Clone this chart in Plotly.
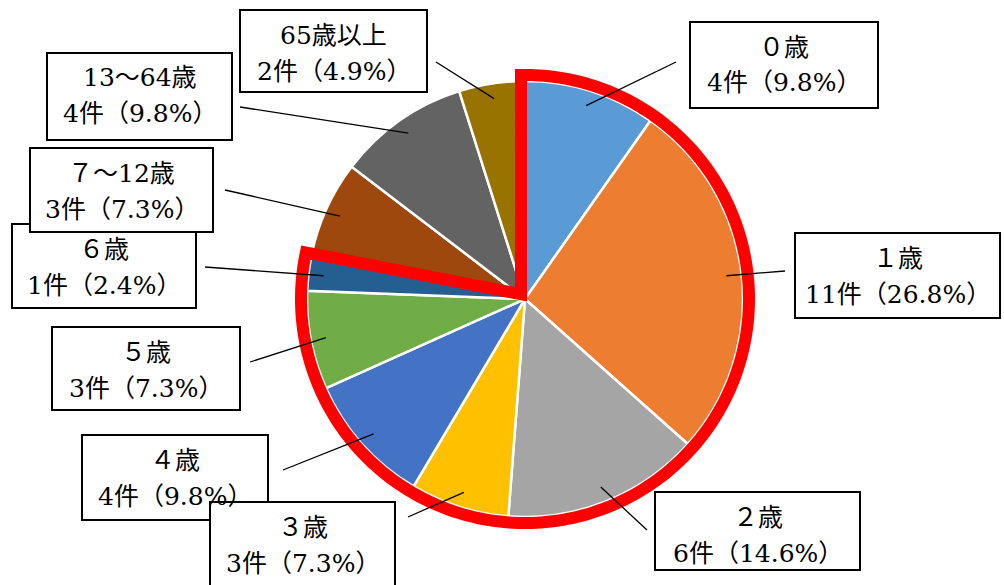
import math
import plotly.graph_objects as go

# ---------------- data ----------------
categories = ["０歳", "１歳", "２歳", "３歳", "４歳", "５歳", "６歳", "７～12歳", "13～64歳", "65歳以上"]
counts = [4, 11, 6, 3, 4, 3, 1, 3, 4, 2]
colors = ["#5B9BD5", "#ED7D31", "#A5A5A5", "#FFC000", "#4472C4",
          "#70AD47", "#255E91", "#9E480E", "#636363", "#997300"]
highlight_n = 7  # 0歳〜6歳 outlined in red

# ---------------- layout helpers ----------------
W, H = 1004, 585
CX, CY, R = 525, 299, 218
FONT = "DejaVu Serif, Noto Sans CJK JP, serif"
FONT_SIZE = 25

# label boxes (left, top, right, bottom) and leader-line outer ends, in pixels
boxes = [
    (690, 22, 878, 108),
    (795, 233, 1000, 318),
    (655, 492, 860, 570),
    (210, 502, 395, 590),
    (82, 435, 268, 520),
    (52, 327, 240, 410),
    (12, 224, 196, 308),
    (30, 148, 213, 232),
    (47, 53, 232, 140),
    (240, 10, 427, 92),
]
leader_out = [(676, 62), (785, 271), (647, 530), (408, 517), (283, 470),
              (250, 362), (205, 267), (225, 190), (240, 107), (436, 62)]
draw_order = [0, 1, 2, 4, 3, 5, 6, 7, 8, 9]


def px(x):
    return x / W


def py(y):
    return 1 - y / H


total = sum(counts)
line2 = [f"{c}件（{c / total * 100:.1f}%）" for c in counts]

fig = go.Figure(go.Pie(
    values=counts, labels=categories, sort=False, direction="clockwise", rotation=0,
    marker=dict(colors=colors, line=dict(color="white", width=2.5)),
    textinfo="none", hoverinfo="skip", showlegend=False,
    domain=dict(x=[px(CX - R), px(CX + R)], y=[py(CY + R), py(CY - R)]),
))

shapes = []

# red outline around the first highlight_n slices (computed from the data)
cum = [0]
for c in counts:
    cum.append(cum[-1] + c)
th_end = 2 * math.pi * cum[highlight_n] / total
RR = R + 6
off = 4
ex, ey = math.sin(th_end), -math.cos(th_end)          # edge direction (screen)
nx, ny = -ey, ex                                       # perpendicular
mid_ex = th_end + (2 * math.pi - th_end) / 2
if nx * math.sin(mid_ex) + ny * -math.cos(mid_ex) < 0:
    nx, ny = -nx, -ny
p0x, p0y = CX + off * nx, CY + off * ny
t = ((CX - off) - p0x) / ex if abs(ex) > 1e-9 else 0
vx, vy = CX - off, p0y + t * ey
a0 = -math.asin(off / RR)
a1 = th_end + math.asin(off / RR)
pts = []
N = 240
for i in range(N + 1):
    a = a0 + (a1 - a0) * i / N
    pts.append((CX + RR * math.sin(a), CY - RR * math.cos(a)))
path = f"M {px(vx):.5f} {py(vy):.5f} " + " ".join(
    f"L {px(x):.5f} {py(y):.5f}" for x, y in pts) + " Z"
shapes.append(dict(type="path", xref="paper", yref="paper", path=path,
                   line=dict(color="#FF0000", width=12), fillcolor="rgba(0,0,0,0)"))

# leader lines
for i, c in enumerate(counts):
    am = 2 * math.pi * (cum[i] + c / 2) / total
    ix, iy = CX + 0.93 * R * math.sin(am), CY - 0.93 * R * math.cos(am)
    ox, oy = leader_out[i]
    shapes.append(dict(type="line", xref="paper", yref="paper",
                       x0=px(ix), y0=py(iy), x1=px(ox), y1=py(oy),
                       line=dict(color="black", width=1.3)))

# boxes
for i in draw_order:
    l, t_, r, b = boxes[i]
    shapes.append(dict(type="rect", xref="paper", yref="paper",
                       x0=px(l), x1=px(r), y0=py(b), y1=py(t_),
                       line=dict(color="black", width=2), fillcolor="white"))

annotations = []
for i in range(len(categories)):
    l, t_, r, b = boxes[i]
    cxb = (l + r) / 2
    for txt, dy in ((categories[i], 25), (line2[i], 61)):
        annotations.append(dict(xref="paper", yref="paper", x=px(cxb), y=py(t_ + dy),
                                xanchor="center", yanchor="middle", showarrow=False,
                                text=txt, font=dict(family=FONT, size=FONT_SIZE, color="black")))

fig.update_layout(
    width=W, height=H, margin=dict(l=0, r=0, t=0, b=0),
    paper_bgcolor="white", plot_bgcolor="white", showlegend=False,
    shapes=shapes, annotations=annotations,
)
fig.write_html("out.html", config={"displayModeBar": False},
               post_script="document.body.style.margin='0';document.body.style.overflow='hidden';")
